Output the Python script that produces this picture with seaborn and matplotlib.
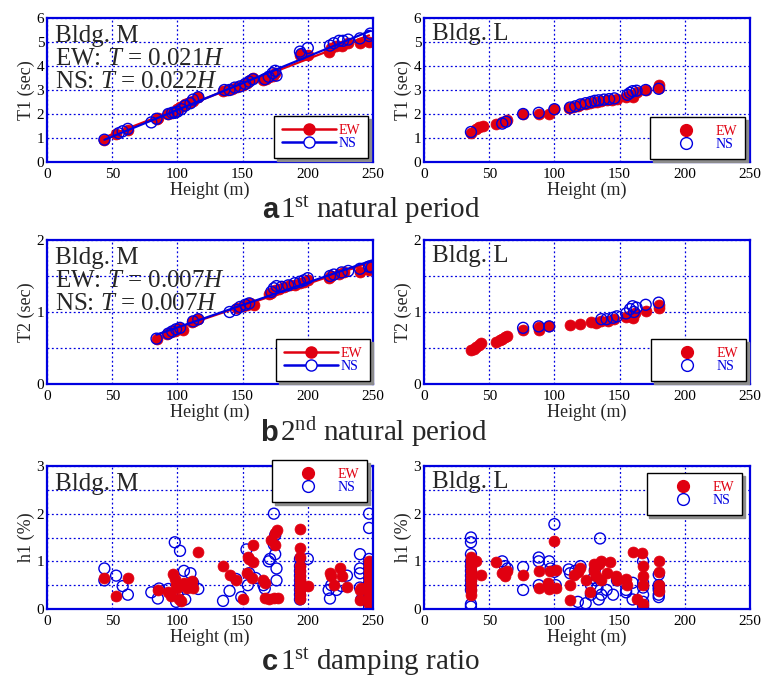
import numpy as np
import pandas as pd
import matplotlib
matplotlib.use("Agg")
import matplotlib.pyplot as plt
from matplotlib.lines import Line2D
from matplotlib.ticker import MultipleLocator
import seaborn as sns

sns.set_theme(style="white")
plt.rcParams['font.family'] = ['Liberation Serif', 'DejaVu Serif']
plt.rcParams['mathtext.fontset'] = 'custom'
plt.rcParams['mathtext.rm'] = 'Liberation Serif'
plt.rcParams['mathtext.it'] = 'Liberation Serif:italic'

RED = '#e00010'
BLUE = '#0000e0'

# ---------------- data ----------------
# Bldg. M, first natural period
M_T1_H_EW = [44, 53, 62, 84, 85, 93, 96, 98, 100, 102, 104, 106, 108, 110, 112, 116, 135, 138, 142, 146,
             150, 153, 156, 158, 166, 168, 170, 173, 175, 194, 195, 200, 216, 218, 222, 226, 231, 240, 247]
M_T1_EW = [0.92, 1.17, 1.35, 1.8, 1.85, 2.02, 2.05, 2.1, 2.2, 2.3, 2.35, 2.4, 2.45, 2.5, 2.55, 2.7, 2.97, 3.0,
           3.05, 3.12, 3.2, 3.3, 3.4, 3.5, 3.4, 3.45, 3.55, 3.6, 3.7, 4.45, 4.5, 4.45, 4.6, 4.75, 4.85, 4.85,
           4.95, 4.95, 5.0]
M_T1_H_NS = [44, 55, 58, 62, 80, 84, 93, 96, 98, 100, 103, 106, 110, 112, 116, 136, 140, 144, 148, 152, 155,
             158, 167, 170, 173, 175, 176, 194, 195, 200, 217, 220, 224, 227, 231, 240, 247, 248]
M_T1_NS = [0.93, 1.2, 1.28, 1.38, 1.65, 1.8, 2.0, 2.05, 2.05, 2.1, 2.2, 2.35, 2.45, 2.6, 2.7, 3.0, 3.0, 3.1,
           3.15, 3.25, 3.35, 3.45, 3.45, 3.55, 3.7, 3.8, 3.6, 4.6, 4.5, 4.75, 4.85, 4.95, 5.05, 5.05, 5.1,
           5.15, 5.25, 5.35]

# Bldg. L, first natural period
L_T1_H_EW = [36, 40, 42, 45, 55, 60, 64, 76, 88, 96, 100, 111, 114, 118, 121, 124, 127, 130, 133, 136, 140,
             144, 148, 155, 158, 160, 163, 170, 180, 180]
L_T1_EW = [1.22, 1.38, 1.45, 1.5, 1.57, 1.65, 1.75, 2.0, 2.02, 2.0, 2.2, 2.27, 2.3, 2.35, 2.4, 2.43, 2.47,
           2.5, 2.52, 2.55, 2.57, 2.6, 2.62, 2.72, 2.8, 2.7, 2.9, 3.0, 3.22, 3.08]
L_T1_H_NS = [36, 60, 63, 76, 88, 100, 112, 116, 120, 124, 128, 131, 134, 138, 142, 146, 156, 158, 160, 163,
             170, 180]
L_T1_NS = [1.25, 1.6, 1.68, 2.0, 2.05, 2.2, 2.27, 2.32, 2.4, 2.45, 2.5, 2.55, 2.57, 2.6, 2.62, 2.65, 2.8,
           2.88, 2.95, 2.97, 3.0, 3.05]

# Bldg. M, second natural period
M_T2_H_EW = [84, 92, 95, 98, 100, 102, 104, 111, 113, 116, 146, 150, 153, 156, 159, 170, 172, 175, 178, 182,
             186, 190, 194, 197, 200, 216, 218, 224, 228, 240, 247, 248]
M_T2_EW = [0.63, 0.7, 0.72, 0.74, 0.76, 0.78, 0.75, 0.86, 0.87, 0.9, 1.05, 1.08, 1.1, 1.12, 1.1, 1.25, 1.27,
           1.3, 1.32, 1.35, 1.37, 1.38, 1.4, 1.42, 1.44, 1.47, 1.5, 1.53, 1.55, 1.55, 1.58, 1.62]
M_T2_H_NS = [84, 93, 96, 99, 102, 112, 116, 140, 145, 148, 152, 155, 172, 174, 176, 180, 185, 190, 194, 197,
             200, 217, 220, 226, 231, 240, 247, 249]
M_T2_NS = [0.63, 0.7, 0.73, 0.76, 0.78, 0.87, 0.9, 1.0, 1.03, 1.07, 1.1, 1.12, 1.28, 1.33, 1.36, 1.35, 1.37,
           1.4, 1.42, 1.44, 1.47, 1.5, 1.52, 1.55, 1.57, 1.6, 1.63, 1.62]

# Bldg. L, second natural period
L_T2_H_EW = [36, 38, 40, 42, 44, 55, 58, 60, 62, 64, 76, 88, 88, 96, 112, 120, 128, 132, 136, 141, 146, 155,
             158, 160, 162, 170, 180, 180]
L_T2_EW = [0.47, 0.49, 0.51, 0.54, 0.57, 0.59, 0.61, 0.63, 0.65, 0.67, 0.75, 0.79, 0.75, 0.8, 0.82, 0.84,
           0.86, 0.85, 0.87, 0.88, 0.9, 0.93, 0.95, 0.92, 0.98, 1.02, 1.1, 1.05]
L_T2_H_NS = [76, 88, 96, 136, 140, 145, 148, 155, 158, 160, 161, 163, 170, 180]
L_T2_NS = [0.78, 0.8, 0.8, 0.9, 0.9, 0.92, 0.94, 0.98, 1.04, 1.08, 1.0, 1.06, 1.1, 1.13]

# Bldg. M, first damping ratio
M_h1_H_EW = [44, 53, 62, 85, 93, 95, 97, 98, 99, 100, 101, 103, 105, 107, 110, 111, 112, 116, 135, 140, 145,
             150, 153, 154, 155, 157, 158, 158, 166, 167, 167, 170, 172, 174, 175, 176, 175, 177,
             194, 194, 194, 194, 194, 194, 194, 194, 194, 194, 194, 200, 217, 218, 220, 225, 226, 230,
             240, 240, 241, 247, 247, 247, 247, 247, 247, 247, 247, 247, 247, 248, 248, 248]
M_h1_EW = [0.66, 0.27, 0.66, 0.4, 0.35, 0.28, 0.73, 0.62, 0.5, 0.45, 0.2, 0.17, 0.55, 0.45, 0.5, 0.58, 0.45,
           1.2, 0.9, 0.72, 0.6, 0.2, 0.75, 1.1, 1.05, 0.65, 0.98, 1.35, 0.6, 0.55, 0.23, 0.22, 1.45, 0.23,
           1.6, 1.65, 1.35, 0.23, 1.67, 1.28, 1.1, 0.9, 0.8, 0.7, 0.6, 0.5, 0.4, 0.3, 0.2, 0.48, 0.75, 0.7,
           0.5, 0.87, 0.7, 0.47, 0.4, 0.18, 0.45, 1.0, 0.9, 0.8, 0.7, 0.6, 0.5, 0.4, 0.3, 0.2, 0.1, 0.95,
           0.75, 0.55]
M_h1_H_NS = [44, 44, 53, 58, 62, 80, 85, 86, 93, 96, 98, 99, 100, 102, 105, 106, 110, 112, 116, 135, 140,
             145, 149, 153, 154, 155, 160, 166, 167, 170, 171, 174, 174, 175, 175, 176, 176,
             194, 194, 194, 194, 194, 194, 194, 194, 194, 200, 216, 217, 218, 222, 226, 230,
             240, 240, 240, 240, 241, 247, 247, 247, 247, 247, 247, 247, 247, 247, 247, 247, 247, 247]
M_h1_NS = [0.85, 0.6, 0.7, 0.48, 0.3, 0.35, 0.22, 0.43, 0.42, 0.3, 1.4, 0.15, 0.3, 1.22, 0.8, 0.2, 0.75,
           0.55, 0.42, 0.17, 0.38, 0.63, 0.25, 1.25, 0.5, 0.75, 0.65, 0.5, 0.43, 1.0, 1.05, 2.0, 1.35, 1.55,
           1.15, 0.85, 0.6, 1.05, 0.9, 0.8, 0.7, 0.6, 0.5, 0.4, 0.3, 0.2, 1.05, 0.4, 0.22, 0.5, 0.4, 0.48,
           0.7, 1.15, 0.85, 0.75, 0.45, 0.2, 2.0, 1.7, 1.05, 0.95, 0.85, 0.75, 0.65, 0.55, 0.45, 0.35, 0.25,
           0.15, 0.05]

# Bldg. L, first damping ratio
L_h1_H_EW = [36, 36, 36, 36, 36, 36, 36, 36, 36, 40, 44, 55, 60, 62, 64, 76, 88, 88, 95, 96, 97, 100, 101,
             101, 112, 112, 115, 118, 120, 124, 127, 130, 130, 132, 134, 136, 136, 140, 143, 147, 148, 155,
             156, 160, 163, 167, 168, 168, 168, 168, 180, 180, 180, 180]
L_h1_EW = [1.1, 1.0, 0.9, 0.8, 0.7, 0.6, 0.5, 0.4, 0.3, 1.0, 0.72, 0.98, 0.75, 0.7, 0.8, 0.72, 0.8, 0.45,
           0.55, 0.42, 0.8, 1.42, 0.82, 0.45, 0.5, 0.18, 0.72, 0.78, 0.85, 0.6, 0.35, 0.8, 0.95, 0.7, 0.95,
           1.0, 0.6, 0.75, 0.98, 0.7, 0.6, 0.62, 0.5, 1.2, 0.2, 1.18, 0.9, 0.7, 0.5, 0.1, 1.0, 0.77, 0.5,
           0.38]
L_h1_H_NS = [36, 36, 36, 36, 36, 36, 36, 36, 36, 36, 36, 36, 60, 62, 64, 76, 76, 88, 88, 88, 96, 97, 100,
             100, 101, 111, 112, 116, 120, 118, 124, 128, 128, 130, 131, 132, 133, 134, 135, 136, 140, 145,
             148, 155, 155, 160, 160, 168, 168, 168, 168, 168, 168, 168, 180, 180, 180, 180, 180, 180]
L_h1_NS = [1.5, 1.4, 1.15, 1.0, 0.9, 0.8, 0.7, 0.6, 0.5, 0.4, 0.1, 0.05, 1.0, 0.9, 0.85, 0.88, 0.4, 1.08,
           1.0, 0.5, 1.0, 0.85, 1.78, 0.78, 0.5, 0.83, 0.75, 0.8, 0.9, 0.15, 0.12, 0.5, 0.3, 0.65, 0.82, 0.6,
           0.45, 0.2, 1.48, 0.3, 0.4, 0.3, 0.6, 0.4, 0.35, 0.55, 0.2, 1.0, 0.55, 0.45, 0.3, 0.15, 0.05, 0.0,
           0.72, 0.5, 0.45, 0.4, 0.3, 0.25]

X_TICKS = [0, 50, 100, 150, 200, 250]
CAPTIONS = [("a", "1$^{\\rm st}$ natural period"),
            ("b", "2$^{\\rm nd}$ natural period"),
            ("c", "1$^{\\rm st}$ damping ratio")]

# ---------------- figure ----------------
W, Hpx = 772, 680
fig = plt.figure(figsize=(W / 100, Hpx / 100), dpi=100)


def ax_at(x0, top, x1, bottom):
    return fig.add_axes([x0 / W, 1 - bottom / Hpx, (x1 - x0) / W, (bottom - top) / Hpx])


rows = [(18, 162), (240, 384), (466, 609)]
cols = [(47, 373), (424, 750)]
axes = [[ax_at(c[0], r[0], c[1], r[1]) for c in cols] for r in rows]

MS = 62


def scat(ax, h, v, filled, z):
    df = pd.DataFrame({"H": h, "V": v})
    if filled:
        sns.scatterplot(data=df, x="H", y="V", ax=ax, s=MS, color=RED, edgecolor=RED,
                        linewidth=0.5, zorder=z, legend=False)
    else:
        sns.scatterplot(data=df, x="H", y="V", ax=ax, s=MS, facecolor='none', edgecolor=BLUE,
                        linewidth=1.0, zorder=z, legend=False)


def fitline(ax, h, v, color):
    k, b = np.polyfit(h, v, 1)
    xs = np.array([min(h), max(h)])
    ax.plot(xs, k * xs + b, color=color, lw=1.6, zorder=4)


def style(ax, ymax, ymajor, yminor, ylabel):
    ax.set_xlim(0, 250)
    ax.set_ylim(0, ymax)
    ax.set_xticks(X_TICKS)
    ax.yaxis.set_major_locator(MultipleLocator(ymajor))
    ax.yaxis.set_minor_locator(MultipleLocator(yminor))
    ax.grid(True, which='both', color=BLUE, ls=(0, (1.5, 2)), lw=0.9)
    ax.set_axisbelow(True)
    for sp in ax.spines.values():
        sp.set_color(BLUE)
        sp.set_linewidth(1.6)
        sp.set_zorder(6)
    ax.tick_params(which='both', direction='in', color=BLUE, labelsize=11, length=3,
                   labelcolor='black')
    ax.tick_params(axis='x', pad=4)
    ax.tick_params(axis='y', pad=2)
    ax.set_xlabel("Height (m)", fontsize=13, labelpad=0.5)
    ax.set_ylabel(ylabel, fontsize=13, labelpad=1)


def legend(ax, lines, anchor):
    if lines:
        hs = [Line2D([], [], color=RED, lw=1.8, marker='o', ms=8, mfc=RED, mec=RED),
              Line2D([], [], color=BLUE, lw=1.8, marker='o', ms=8, mfc='white', mec=BLUE)]
        hl, tp = 3.9, 0.2
    else:
        hs = [Line2D([], [], ls='none', marker='o', ms=8.5, mfc=RED, mec=RED),
              Line2D([], [], ls='none', marker='o', ms=8.5, mfc='none', mec=BLUE)]
        hl, tp = 4.1, 0.1
    loc = 'lower right' if anchor[1] < 0.5 else 'upper right'
    leg = ax.legend(hs, ["EW", "NS"], loc=loc, bbox_to_anchor=anchor, fontsize=10,
                    frameon=True, fancybox=False, shadow={'color': '0.55', 'alpha': 1, 'ox': 2, 'oy': -2},
                    borderpad=0.55, handlelength=hl, handletextpad=tp, labelspacing=0.05,
                    borderaxespad=0.0)
    leg.get_frame().set_edgecolor('black')
    leg.get_frame().set_linewidth(1.0)
    for t, c in zip(leg.get_texts(), [RED, BLUE]):
        t.set_color(c)
    leg.set_zorder(10)


def labels(ax, lines, fracs):
    for s, fy in zip(lines, fracs):
        ax.text(0.025, fy, s, transform=ax.transAxes, ha='left', va='baseline', fontsize=18, zorder=8)


FR = [0.833, 0.672, 0.512]

# Row a
ax = axes[0][0]
scat(ax, M_T1_H_EW, M_T1_EW, True, 3)
scat(ax, M_T1_H_NS, M_T1_NS, False, 5)
fitline(ax, M_T1_H_EW, M_T1_EW, RED)
fitline(ax, M_T1_H_NS, M_T1_NS, BLUE)
style(ax, 6, 1, 1, "T1 (sec)")
legend(ax, True, (0.985, 0.028))
labels(ax, ["Bldg. M", "EW: $T$ = 0.021$H$", "NS: $T$ = 0.022$H$"], FR)

ax = axes[0][1]
scat(ax, L_T1_H_EW, L_T1_EW, True, 3)
scat(ax, L_T1_H_NS, L_T1_NS, False, 5)
style(ax, 6, 1, 1, "T1 (sec)")
legend(ax, False, (0.985, 0.021))
labels(ax, ["Bldg. L"], [0.845])

# Row b
ax = axes[1][0]
scat(ax, M_T2_H_EW, M_T2_EW, True, 3)
scat(ax, M_T2_H_NS, M_T2_NS, False, 5)
fitline(ax, M_T2_H_EW, M_T2_EW, RED)
fitline(ax, M_T2_H_NS, M_T2_NS, BLUE)
style(ax, 2, 1, 0.5, "T2 (sec)")
legend(ax, True, (0.991, 0.021))
labels(ax, ["Bldg. M", "EW: $T$ = 0.007$H$", "NS: $T$ = 0.007$H$"], FR)

ax = axes[1][1]
scat(ax, L_T2_H_EW, L_T2_EW, True, 3)
scat(ax, L_T2_H_NS, L_T2_NS, False, 5)
style(ax, 2, 1, 0.5, "T2 (sec)")
legend(ax, False, (0.988, 0.021))
labels(ax, ["Bldg. L"], [0.845])

# Row c
ax = axes[2][0]
scat(ax, M_h1_H_NS, M_h1_NS, False, 3)
scat(ax, M_h1_H_EW, M_h1_EW, True, 4)
style(ax, 3, 1, 0.5, "h1 (%)")
legend(ax, False, (0.982, 1.042))
labels(ax, ["Bldg. M"], [0.833])

ax = axes[2][1]
scat(ax, L_h1_H_NS, L_h1_NS, False, 3)
scat(ax, L_h1_H_EW, L_h1_EW, True, 4)
style(ax, 3, 1, 0.5, "h1 (%)")
legend(ax, False, (0.975, 0.951))
labels(ax, ["Bldg. L"], [0.845])

# Captions
cap_y = [218, 441, 670]
for (lab, txt), yy in zip(CAPTIONS, cap_y):
    fig.text(278 / W, 1 - yy / Hpx, lab, ha='right', va='baseline', fontsize=21, fontweight='bold',
             family=['Liberation Sans', 'DejaVu Sans'])
    fig.text(280 / W, 1 - yy / Hpx, txt, ha='left', va='baseline', fontsize=21)

fig.savefig("out.png", dpi=100)
